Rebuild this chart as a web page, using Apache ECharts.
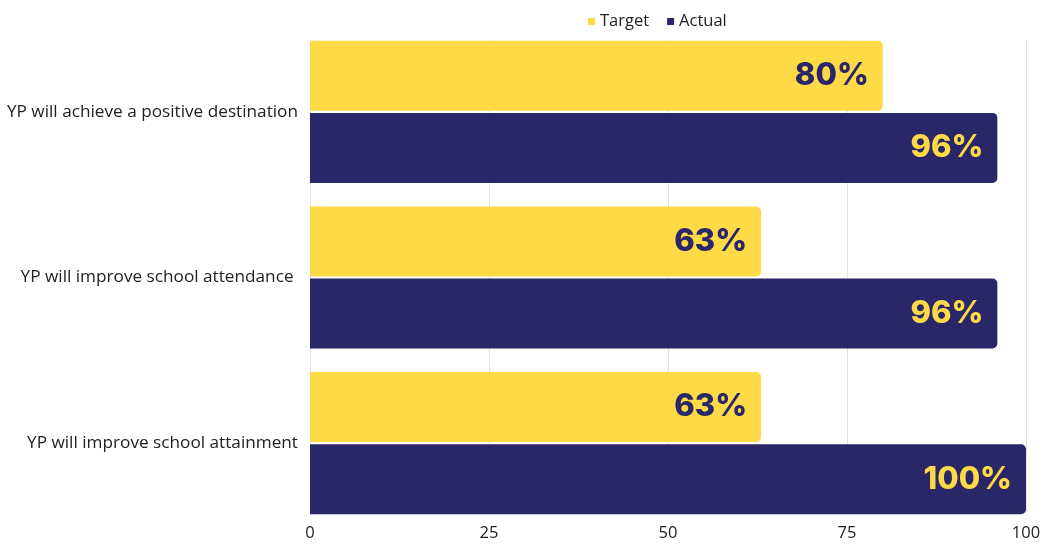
<!DOCTYPE html>
<html>
<head>
<meta charset="utf-8">
<script src="https://cdn.jsdelivr.net/npm/echarts@6/dist/echarts.min.js"></script>
<style>
html,body{margin:0;padding:0;background:#fff;}
#chart{width:1056px;height:550px;}
</style>
</head>
<body>
<div id="chart"></div>
<script>
// Outcome categories, top to bottom
const categories = [
  'YP will achieve a positive destination',
  'YP will improve school attendance ',
  'YP will improve school attainment'
];
const targetValues = [80, 63, 63];
const actualValues = [96, 96, 100];
const axisTicks = [0, 25, 50, 75, 100];

const YELLOW = '#FFDA47';
const NAVY = '#2A2769';
const TEXT = '#222';

const chart = echarts.init(document.getElementById('chart'), null, { renderer: 'canvas' });

const labelStyle = (color) => ({
  show: true,
  position: 'insideRight',
  distance: 14,
  formatter: (p) => p.value + '%',
  color: color,
  fontFamily: 'Inter',
  fontWeight: 800,
  fontSize: 31
});

const xMin = axisTicks[0];
const xMax = axisTicks[axisTicks.length - 1];

chart.setOption({
  animation: false,
  legend: {
    top: 8,
    left: 583,
    itemWidth: 7,
    itemHeight: 7,
    itemGap: 18,
    icon: 'rect',
    textStyle: { fontFamily: 'Open Sans', fontSize: 16.5, color: TEXT },
    data: ['Target', 'Actual']
  },
  // grid 0: the bars fill their bands edge to edge; grid 1: gridlines and tick labels
  grid: [
    { left: 310, right: 30, top: 29, bottom: 24 },
    { left: 310, right: 30, top: 40, bottom: 36 }
  ],
  xAxis: [
    {
      type: 'value', gridIndex: 0, min: xMin, max: xMax, interval: 25,
      axisLine: { show: false }, axisTick: { show: false },
      axisLabel: { show: false }, splitLine: { show: false }
    },
    {
      type: 'value', gridIndex: 1, min: xMin, max: xMax, interval: 25,
      axisLine: { show: false }, axisTick: { show: false },
      axisLabel: { fontFamily: 'Open Sans', fontSize: 16.5, color: TEXT, margin: 11 },
      splitLine: { show: true, lineStyle: { color: '#e3e3e3', width: 1 } }
    }
  ],
  yAxis: [
    {
      type: 'category', gridIndex: 0, inverse: true, data: categories,
      axisLine: { show: false }, axisTick: { show: false },
      axisLabel: { fontFamily: 'Open Sans', fontSize: 17.2, color: TEXT, margin: 12 },
      z: 3
    },
    {
      type: 'value', gridIndex: 1, min: 0, max: 1,
      axisLine: { show: false }, axisTick: { show: false },
      axisLabel: { show: false }, splitLine: { show: false }
    }
  ],
  series: [
    {
      name: 'Target',
      type: 'bar',
      xAxisIndex: 0, yAxisIndex: 0,
      data: targetValues,
      barWidth: 70,
      barGap: '3%',
      itemStyle: { color: YELLOW, borderRadius: [0, 5, 5, 0] },
      label: labelStyle(NAVY),
      z: 3
    },
    {
      name: 'Actual',
      type: 'bar',
      xAxisIndex: 0, yAxisIndex: 0,
      data: actualValues,
      barWidth: 70,
      barGap: '3%',
      itemStyle: { color: NAVY, borderRadius: [0, 5, 5, 0] },
      label: labelStyle(YELLOW),
      z: 3
    }
  ]
});
</script>
</body>
</html>
